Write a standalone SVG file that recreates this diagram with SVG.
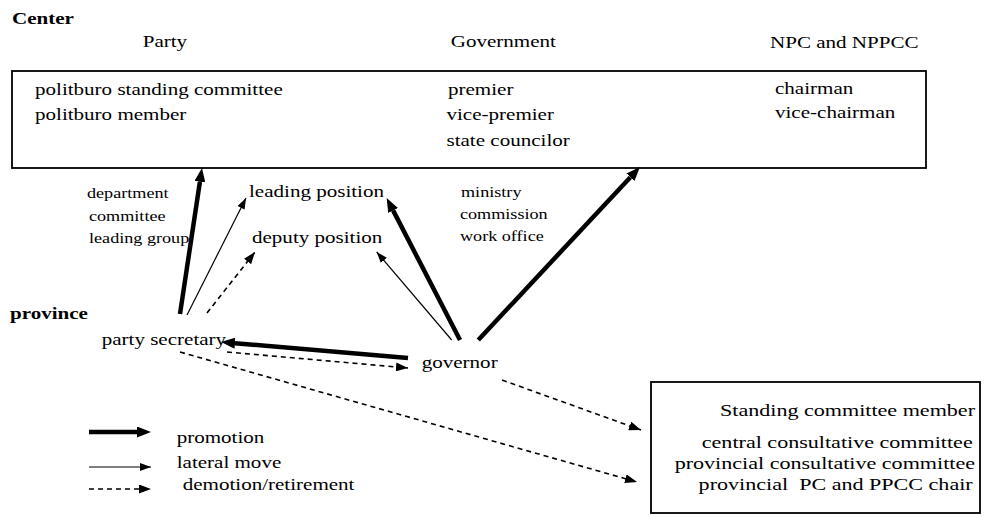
<svg xmlns="http://www.w3.org/2000/svg" width="990" height="518" viewBox="0 0 990 518">
  <style>
    .t { font-family: "Liberation Serif", "Times New Roman", serif; font-size: 16px; fill: #000; }
    .b { font-weight: bold; }
    .s { font-size: 13.8px; }
    .m { font-size: 16.8px; }
    .e { text-anchor: end; }
    .box { fill: none; stroke: #000; stroke-width: 1.8; }
    .thick { fill: none; stroke: #000; stroke-width: 4.5; marker-end: url(#headThick); }
    .thin { fill: none; stroke: #000; stroke-width: 1.2; marker-end: url(#headThin); }
    .dash { fill: none; stroke: #000; stroke-width: 1.6; stroke-dasharray: 5 4; marker-end: url(#headDash); }
  </style>
  <defs>
    <!-- thick head starts where its line ends -->
    <marker id="headThick" markerUnits="userSpaceOnUse" markerWidth="14" markerHeight="11" refX="0" refY="5.5" orient="auto">
      <path d="M0,0 L14,5.5 L0,11 z" fill="#000"/>
    </marker>
    <marker id="headThin" markerUnits="userSpaceOnUse" markerWidth="11" markerHeight="8" refX="11" refY="4" orient="auto">
      <path d="M0,0 L11,4 L0,8 z" fill="#000"/>
    </marker>
    <marker id="headDash" markerUnits="userSpaceOnUse" markerWidth="12" markerHeight="9" refX="12" refY="4.5" orient="auto">
      <path d="M0,0 L12,4.5 L0,9 z" fill="#000"/>
    </marker>
  </defs>

  <rect width="990" height="518" fill="#fff"/>

  <!-- level labels and column headers -->
  <g id="level-center">
    <text class="t b" transform="translate(12 24) scale(1.315 1)">Center</text>
  </g>
  <g id="headers">
    <text class="t" transform="translate(142.7 47) scale(1.315 1)">Party</text>
    <text class="t" transform="translate(450.7 47) scale(1.315 1)">Government</text>
    <text class="t" transform="translate(770 48) scale(1.315 1)">NPC and NPPCC</text>
  </g>

  <!-- central leadership posts -->
  <g id="center-box">
    <rect class="box" x="12" y="71" width="914" height="97"/>
    <text class="t" transform="translate(35 95) scale(1.315 1)">politburo standing committee</text>
    <text class="t" transform="translate(35 120) scale(1.315 1)">politburo member</text>
    <text class="t" transform="translate(448 95) scale(1.315 1)">premier</text>
    <text class="t" transform="translate(446.5 120) scale(1.315 1)">vice-premier</text>
    <text class="t" transform="translate(446.5 146) scale(1.315 1)">state councilor</text>
    <text class="t" transform="translate(775 94) scale(1.315 1)">chairman</text>
    <text class="t" transform="translate(775 118) scale(1.315 1)">vice-chairman</text>
  </g>

  <g id="party-organs">
    <text class="t s" transform="translate(87 198) scale(1.315 1)">department</text>
    <text class="t s" transform="translate(89 221) scale(1.315 1)">committee</text>
    <text class="t s" transform="translate(89 243) scale(1.315 1)">leading group</text>
  </g>
  <g id="leading-position">
    <text class="t" transform="translate(249 197) scale(1.315 1)">leading position</text>
  </g>
  <g id="deputy-position">
    <text class="t" transform="translate(252 243) scale(1.315 1)">deputy position</text>
  </g>
  <g id="government-organs">
    <text class="t s" transform="translate(461 197) scale(1.315 1)">ministry</text>
    <text class="t s" transform="translate(460 219) scale(1.315 1)">commission</text>
    <text class="t s" transform="translate(460 241) scale(1.315 1)">work office</text>
  </g>

  <!-- provincial level -->
  <g id="level-province">
    <text class="t b" transform="translate(10 319) scale(1.315 1)">province</text>
  </g>
  <g id="party-secretary">
    <text class="t" transform="translate(101.7 345) scale(1.315 1)">party secretary</text>
  </g>
  <g id="governor">
    <text class="t" transform="translate(421.7 368) scale(1.315 1)">governor</text>
  </g>

  <!-- exit posts -->
  <g id="exit-box">
    <rect class="box" x="651" y="382" width="329" height="131"/>
    <text class="t m e" transform="translate(975 416) scale(1.315 1)">Standing committee member</text>
    <text class="t m e" transform="translate(972.7 448) scale(1.315 1)">central consultative committee</text>
    <text class="t m e" transform="translate(975 469) scale(1.315 1)">provincial consultative committee</text>
    <text class="t m e" xml:space="preserve" transform="translate(972.7 490) scale(1.315 1)">provincial  PC and PPCC chair</text>
  </g>

  <!-- career moves -->
  <g id="connectors">
    <path class="thick" d="M180,314 L199.9,181.8"/>
    <path class="thin" d="M187,315 L246,198"/>
    <path class="dash" d="M207,313 L255,252"/>
    <path class="thick" d="M460,340 L393.1,210.4"/>
    <path class="thin" d="M451.7,340 L376.7,252"/>
    <path class="thick" d="M478.3,340 L630.4,177.2"/>
    <path class="thick" d="M408,358 L235,343.2"/>
    <path class="dash" d="M227,352 L408,368"/>
    <path class="dash" d="M502,380 L641,430"/>
    <path class="dash" d="M180,352 L637,482"/>
  </g>

  <g id="legend">
    <path class="thick" d="M89,432 L137,432"/>
    <path class="thin" d="M89,467 L151,467"/>
    <path class="dash" d="M89,489 L151,489"/>
    <text class="t" transform="translate(176.7 443) scale(1.315 1)">promotion</text>
    <text class="t" transform="translate(176.7 468) scale(1.315 1)">lateral move</text>
    <text class="t" transform="translate(182.7 490) scale(1.315 1)">demotion/retirement</text>
  </g>
</svg>
